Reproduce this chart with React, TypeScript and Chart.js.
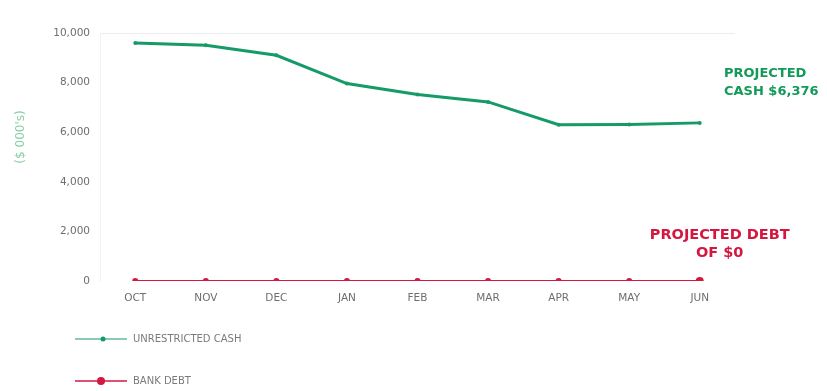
import React, { useEffect, useRef } from "react";
import { Chart, registerables } from "chart.js";

Chart.register(...registerables);

// Months on the category axis
const months = ["OCT", "NOV", "DEC", "JAN", "FEB", "MAR", "APR", "MAY", "JUN"];
// Unrestricted cash, $000's
const unrestrictedCash = [9600, 9510, 9100, 7960, 7520, 7220, 6300, 6310, 6376];
// Bank debt, $000's
const bankDebt = [0, 0, 0, 0, 0, 0, 0, 0, 0];
// Value-axis ticks
const yTicks = [0, 2000, 4000, 6000, 8000, 10000];

const GREEN = "#159a68";
const RED = "#d3173f";
const TICK_GREY = "#6e6e6e";

const fmt = (v: number) => v.toLocaleString("en-US");

const overlayPlugin = {
  id: "overlay",
  afterDraw(chart: any) {
    const ctx = chart.ctx as CanvasRenderingContext2D;
    const x = chart.scales.x;
    ctx.save();

    // axis title
    ctx.save();
    ctx.translate(13, 129);
    ctx.rotate(-Math.PI / 2);
    ctx.font = "12px 'DejaVu Sans', sans-serif";
    ctx.fillStyle = "#86cfa2";
    ctx.textAlign = "center";
    ctx.textBaseline = "middle";
    ctx.fillText("($ 000's)", 0, 0);
    ctx.restore();

    // projected cash callout
    const lastCash = unrestrictedCash[unrestrictedCash.length - 1];
    ctx.font = "bold 13px 'DejaVu Sans', sans-serif";
    ctx.fillStyle = "#129a58";
    ctx.textAlign = "left";
    ctx.textBaseline = "alphabetic";
    ctx.fillText("PROJECTED", 716, 69);
    ctx.fillText("CASH $" + fmt(lastCash), 716, 87);

    // projected debt callout
    const lastDebt = bankDebt[bankDebt.length - 1];
    ctx.font = "bold 14.5px 'DejaVu Sans', sans-serif";
    ctx.fillStyle = RED;
    ctx.textAlign = "center";
    const cx = x.getPixelForValue(months.length - 1) + 20;
    ctx.fillText("PROJECTED DEBT", cx, 231);
    ctx.fillText("OF $" + fmt(lastDebt), cx, 249);

    // legend
    const items = [
      { label: "UNRESTRICTED CASH", color: GREEN, y: 331, px: 95, r: 2.5, w: 1.2 },
      { label: "BANK DEBT", color: RED, y: 373, px: 93, r: 4, w: 1.5 },
    ];
    for (const it of items) {
      ctx.strokeStyle = it.color;
      ctx.lineWidth = it.w;
      ctx.beginPath();
      ctx.moveTo(67, it.y);
      ctx.lineTo(119, it.y);
      ctx.stroke();
      ctx.fillStyle = it.color;
      ctx.beginPath();
      ctx.arc(it.px, it.y, it.r, 0, Math.PI * 2);
      ctx.fill();
      ctx.font = "10px 'DejaVu Sans', sans-serif";
      ctx.fillStyle = "#7a7a7a";
      ctx.textAlign = "left";
      ctx.textBaseline = "middle";
      ctx.fillText(it.label, 125, it.y);
    }
    ctx.restore();
  },
};

export default function App() {
  const ref = useRef<HTMLCanvasElement>(null);

  useEffect(() => {
    if (!ref.current) return;
    const chart = new Chart(ref.current, {
      type: "line",
      data: {
        labels: months,
        datasets: [
          {
            label: "UNRESTRICTED CASH",
            data: unrestrictedCash,
            borderColor: GREEN,
            backgroundColor: GREEN,
            borderWidth: 3,
            pointRadius: 2,
            pointBorderWidth: 0,
            tension: 0,
          },
          {
            label: "BANK DEBT",
            data: bankDebt,
            borderColor: RED,
            backgroundColor: RED,
            borderWidth: 2,
            pointRadius: [3, 3, 3, 3, 3, 3, 3, 3, 4],
            pointBorderWidth: 0,
            tension: 0,
          },
        ],
      },
      options: {
        animation: false,
        responsive: false,
        maintainAspectRatio: false,
        layout: { padding: { top: 25, right: 84, bottom: 80, left: 0 } },
        plugins: {
          legend: { display: false },
          tooltip: { enabled: false },
        },
        scales: {
          x: {
            offset: true,
            grid: { display: false, drawTicks: false },
            border: { display: false },
            ticks: {
              color: TICK_GREY,
              font: { family: "'DejaVu Sans', sans-serif", size: 10.5 },
              padding: 11,
              maxRotation: 0,
            },
            afterFit: (s: any) => {
              s.height = 30;
            },
          },
          y: {
            min: 0,
            max: 10000,
            afterBuildTicks: (s: any) => {
              s.ticks = yTicks.map((v) => ({ value: v }));
            },
            grid: {
              drawTicks: false,
              color: (c: any) => (c.tick && c.tick.value === 10000 ? "#ececec" : "rgba(0,0,0,0)"),
            },
            border: { display: true, color: "#f2f2f2" },
            ticks: {
              color: TICK_GREY,
              font: { family: "'DejaVu Sans', sans-serif", size: 10.5 },
              padding: 10,
              callback: (v: any) => fmt(Number(v)),
            },
            afterFit: (s: any) => {
              s.width = 92;
            },
          },
        },
      },
      plugins: [overlayPlugin],
    });
    return () => chart.destroy();
  }, []);

  return (
    <div style={{ width: 811, height: 383 }}>
      <canvas ref={ref} width={811} height={383} style={{ display: "block" }} />
    </div>
  );
}
